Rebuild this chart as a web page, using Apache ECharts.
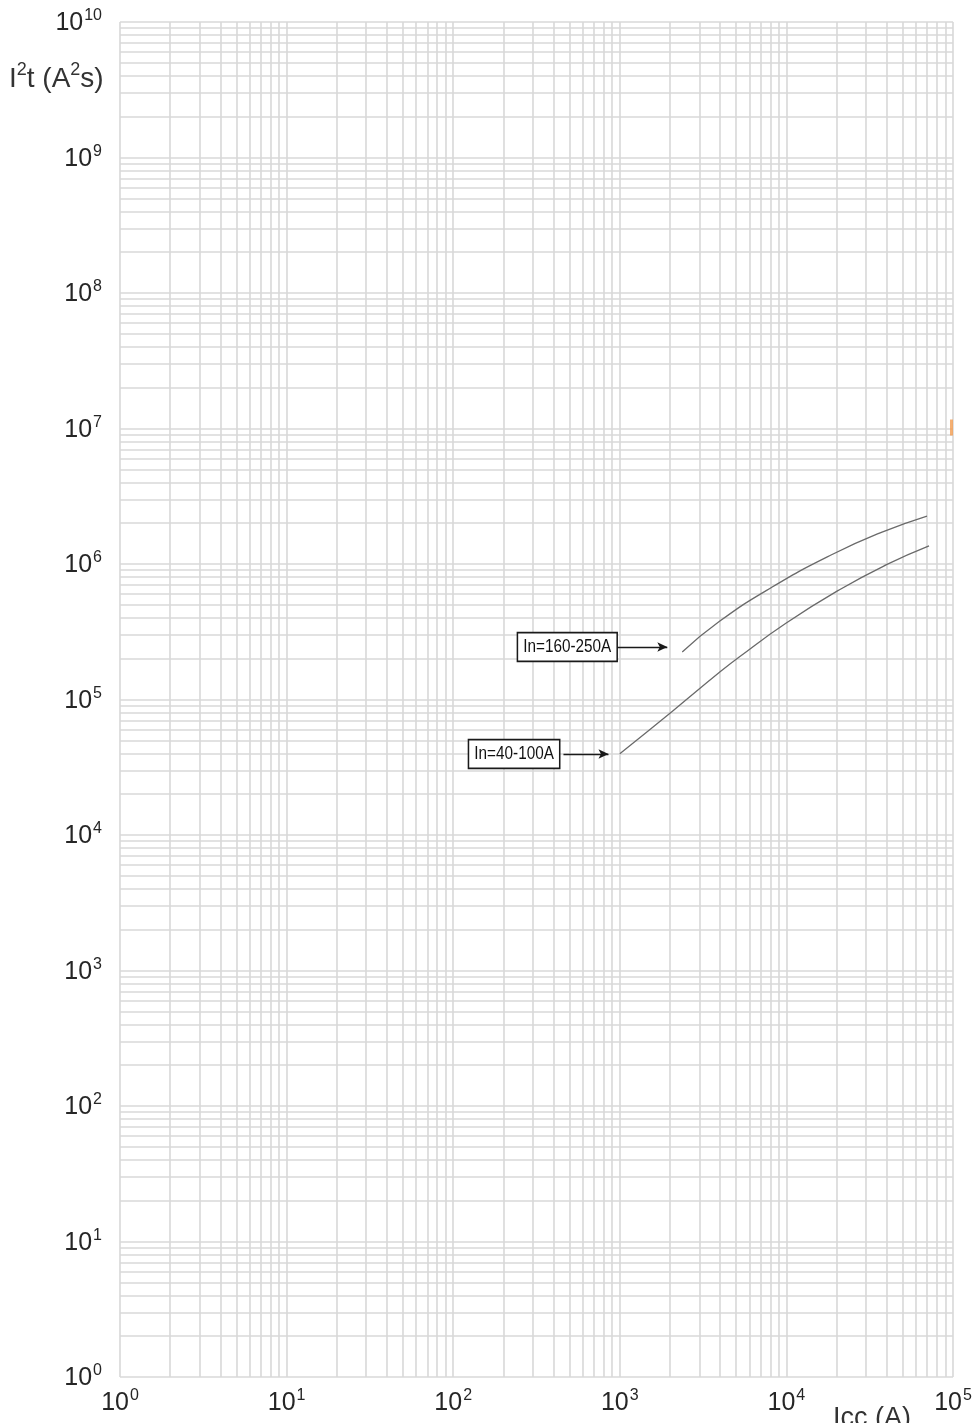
<!DOCTYPE html>
<html>
<head>
<meta charset="utf-8">
<script src="https://cdn.jsdelivr.net/npm/echarts@6/dist/echarts.min.js"></script>
<style>
html,body{margin:0;padding:0;background:#fff;}
#chart{width:976px;height:1423px;}
</style>
</head>
<body>
<div id="chart"></div>
<script>
// ---- data ----
const xDecades = [1, 10, 100, 1000, 10000, 100000];
const yDecades = [1, 10, 100, 1000, 10000, 100000, 1e6, 1e7, 1e8, 1e9, 1e10];
const minorMultipliers = [2, 3, 4, 5, 6, 7, 8, 9];

const curveA_name = 'In=160-250A';
const curveA_x = [2370, 3950, 8220, 18800, 37500, 69800];
const curveA_y = [224000, 376000, 676000, 1175000, 1720000, 2260000];

const curveB_name = 'In=40-100A';
const curveB_x = [1000, 2070, 3950, 5210, 9980, 20700, 39600, 71800];
const curveB_y = [39800, 82000, 158000, 206000, 367000, 643000, 984000, 1360000];

// annotation boxes (data coords) and arrow start/end x, arrow y
const annotLabels = ['In=160-250A', 'In=40-100A'];
const annotBoxX = [484, 232];
const annotY = [244000, 39600];
const arrowFromX = [955, 459];
const arrowToX = [1928, 855];

const markerPoint = [100000, 1e7];

// ---- build ----
function gridValues(decades) {
  const out = [];
  for (let i = 0; i < decades.length; i++) {
    out.push(decades[i]);
    if (i < decades.length - 1) {
      minorMultipliers.forEach(m => out.push(decades[i] * m));
    }
  }
  return out;
}
const gridX = gridValues(xDecades);
const gridY = gridValues(yDecades);

const FONT = '"Liberation Sans", Arial, sans-serif';
const TXT = '#262626';
const supLabel = (v) => {
  const e = Math.round(Math.log10(v));
  return '{b|10}{s|' + e + '}';
};
const rich = {
  b: { fontSize: 25, fontFamily: FONT, color: TXT, lineHeight: 28, verticalAlign: 'bottom' },
  s: { fontSize: 16, fontFamily: FONT, color: TXT, lineHeight: 28, verticalAlign: 'top', padding: [0, 0, 0, 1] }
};

const chart = echarts.init(document.getElementById('chart'), null, { renderer: 'canvas' });
const option = {
  animation: false,
  backgroundColor: '#fff',
  grid: { left: 120, right: 23, top: 22, bottom: 46, containLabel: false, outerBoundsMode: 'none' },
  xAxis: {
    type: 'log', logBase: 10, min: 1, max: 100000, interval: 1,
    axisLine: { show: false }, axisTick: { show: false }, splitLine: { show: false },
    axisLabel: { margin: 11, formatter: supLabel, hideOverlap: false, rich: rich }
  },
  yAxis: {
    type: 'log', logBase: 10, min: 1, max: 1e10, interval: 1,
    axisLine: { show: false }, axisTick: { show: false }, splitLine: { show: false },
    axisLabel: { margin: 18, formatter: supLabel, rich: rich }
  },
  graphic: [
    {
      type: 'text', left: 9, top: 61,
      style: {
        text: '{b|I}{s|2}{b|t (A}{s|2}{b|s)}',
        rich: {
          b: { fontSize: 28, fontFamily: FONT, fill: '#333', lineHeight: 32, verticalAlign: 'bottom' },
          s: { fontSize: 18, fontFamily: FONT, fill: '#333', lineHeight: 32, verticalAlign: 'top' }
        }
      }
    },
    { type: 'text', left: 833, top: 1405, style: { text: 'Icc (A)', fontSize: 27, fontFamily: FONT, fill: '#333' } }
  ],
  series: [
    {
      name: 'grid', type: 'line', data: [], z: 1, silent: true,
      markLine: {
        silent: true, symbol: 'none', animation: false,
        label: { show: false },
        lineStyle: { color: '#d8d8d8', width: 1.6, type: 'solid' },
        data: gridX.map(v => ({ xAxis: v })).concat(gridY.map(v => ({ yAxis: v })))
      }
    },
    {
      name: curveA_name, type: 'line', smooth: 0.5, showSymbol: false, z: 5,
      lineStyle: { color: '#6a6a6a', width: 1.3 },
      data: curveA_x.map((x, i) => [x, curveA_y[i]])
    },
    {
      name: curveB_name, type: 'line', smooth: 0.5, showSymbol: false, z: 5,
      lineStyle: { color: '#6a6a6a', width: 1.3 },
      data: curveB_x.map((x, i) => [x, curveB_y[i]]),
      markLine: {
        silent: true, symbol: ['none', 'arrow'], symbolSize: [7, 10], animation: false,
        label: { show: false },
        lineStyle: { color: '#1a1a1a', width: 1.3, type: 'solid' },
        data: annotLabels.map((t, i) => [
          { coord: [arrowFromX[i], annotY[i]] },
          { coord: [arrowToX[i], annotY[i]] }
        ])
      }
    },
    {
      name: 'labels', type: 'custom', z: 6, silent: true, clip: false,
      data: annotLabels.map((t, i) => [annotBoxX[i], annotY[i], i]),
      renderItem: function (params, api) {
        const p = api.coord([api.value(0), api.value(1)]);
        const idx = api.value(2);
        return {
          type: 'text', x: p[0], y: p[1], scaleX: 0.85,
          style: {
            text: annotLabels[idx],
            fontSize: 18, fontFamily: FONT, fill: '#111',
            align: 'center', verticalAlign: 'middle',
            backgroundColor: '#fff', borderColor: '#1a1a1a', borderWidth: 1.8,
            padding: [5, 6, 4, 6]
          }
        };
      }
    },
    {
      name: 'marker', type: 'scatter', z: 6, clip: false, silent: true,
      symbol: 'rect', symbolSize: [3, 16], symbolOffset: [-1.5, -1],
      itemStyle: { color: '#f29c50' },
      data: [markerPoint]
    }
  ]
};
chart.setOption(option);
</script>
</body>
</html>
